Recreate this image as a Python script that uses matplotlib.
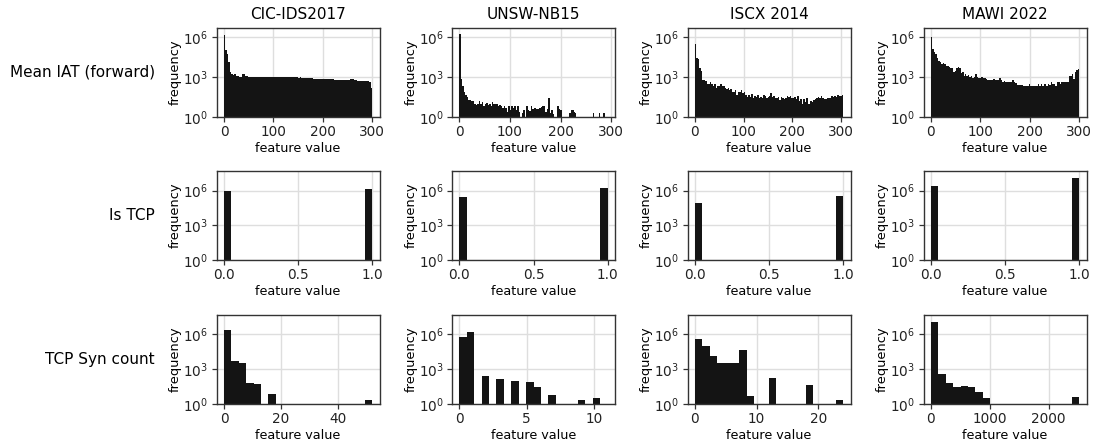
import numpy as np
import matplotlib.pyplot as plt

datasets = ["CIC-IDS2017", "UNSW-NB15", "ISCX 2014", "MAWI 2022"]
features = ["Mean IAT (forward)", "Is TCP", "TCP Syn count"]

nan = np.nan

# log10 of the bin counts (nan = empty bin)
# Mean IAT (forward): 100 bins
iat_cic = [6.15, 5.0, 4.7, 4.1, 3.4, 3.25, 3.15, 3.2, 3.1, 3.05,
           3.0, 3.0, 3.25, 3.2, 3.1, 3.05, 3.0, 3.0, 3.02, 3.0,
           3.0, 2.98, 3.0, 3.0, 3.0, 3.02, 3.02, 3.0, 3.0, 3.02,
           3.02, 3.02, 3.0, 2.98, 3.0, 3.0, 2.98, 2.98, 2.98, 2.98,
           2.98, 2.98, 2.97, 2.97, 2.97, 2.97, 2.96, 2.97, 2.96, 2.96,
           2.95, 2.97, 2.94, 2.94, 2.93, 2.92, 2.92, 2.91, 2.9, 2.9,
           2.88, 2.87, 2.87, 2.86, 2.86, 2.85, 2.85, 2.84, 2.84, 2.83,
           2.82, 2.82, 2.81, 2.81, 2.8, 2.8, 2.79, 2.79, 2.78, 2.78,
           2.77, 2.76, 2.75, 2.75, 2.78, 2.85, 2.88, 2.85, 2.8, 2.75,
           2.72, 2.7, 2.68, 2.7, 2.68, 2.68, 2.66, 2.68, 2.62, 2.2]
iat_unsw = [6.2, 2.85, 2.3, 1.9, 1.65, 1.5, 1.3, 1.3, 1.2, 1.2,
            0.95, 0.9, 0.95, 1.2, 0.95, 1.1, 0.8, 0.95, 1.05, 0.9,
            1.0, 0.8, 1.1, 0.95, 1.0, 0.95, 0.8, 0.9, 0.8, 0.7,
            0.8, 0.7, 0.4, 0.8, 0.5, 0.8, 0.65, 0.8, 0.5, 0.8,
            0.35, nan, 0.3, 0.5, nan, 0.8, 0.5, 0.45, 0.8, 0.6,
            0.65, 0.65, 0.6, 0.6, 0.65, 0.75, 0.8, 0.8, 0.35, 0.6,
            1.45, 0.3, 0.5, 0.25, nan, nan, 0.8, 0.6, 0.5, nan,
            nan, nan, nan, nan, 0.3, 0.5, 0.5, 0.35, 0.3, nan,
            nan, nan, nan, nan, nan, nan, nan, nan, nan, nan,
            0.3, nan, nan, nan, 0.3, nan, nan, 0.3, nan, nan]
iat_iscx = [5.5, 4.4, 4.35, 3.7, 3.45, 2.8, 2.8, 2.7, 2.5, 2.45,
            2.65, 2.45, 2.3, 2.5, 2.15, 2.3, 2.3, 2.5, 2.3, 2.35,
            2.15, 2.1, 2.15, 2.0, 2.1, 1.9, 1.9, 2.0, 1.65, 1.9,
            1.9, 2.0, 1.8, 1.9, 1.65, 1.5, 1.65, 1.5, 1.7, 1.45,
            1.6, 1.5, 1.65, 1.45, 1.5, 1.45, 1.65, 1.6, 1.45, 1.5,
            1.55, 1.8, 1.5, 1.6, 1.4, 1.45, 1.5, 1.3, 1.5, 1.4,
            1.35, 1.45, 1.6, 1.5, 1.6, 1.4, 1.45, 1.5, 1.35, 1.6,
            1.2, 1.35, 1.0, 1.35, 1.1, 1.4, 0.95, 1.0, 1.2, 1.15,
            1.3, 1.35, 1.4, 1.5, 1.45, 1.55, 1.45, 1.35, 1.35, 1.4,
            1.45, 1.4, 1.6, 1.5, 1.6, 1.5, 1.65, 1.55, 1.6, 1.65]
iat_mawi = [6.0, 5.1, 4.85, 4.7, 4.45, 4.2, 4.1, 4.0, 4.05, 3.95,
            3.85, 3.8, 3.75, 3.65, 3.7, 3.35, 3.45, 3.7, 3.75, 3.65,
            3.3, 3.35, 3.1, 3.2, 3.1, 3.15, 3.0, 3.1, 2.95, 3.0,
            3.2, 3.0, 2.95, 2.9, 3.0, 2.95, 2.9, 2.85, 2.8, 2.8,
            2.8, 2.8, 2.85, 2.75, 2.75, 2.8, 2.95, 2.75, 2.65, 2.7,
            2.65, 2.65, 2.6, 2.65, 2.6, 2.75, 2.65, 2.55, 2.4, 2.4,
            2.4, 2.4, 2.35, 2.35, 2.35, 2.35, 2.45, 2.3, 2.35, 2.3,
            2.3, 2.3, 2.5, 2.3, 2.45, 2.35, 2.45, 2.45, 2.35, 2.5,
            2.4, 2.6, 2.5, 2.45, 2.35, 2.6, 2.6, 2.5, 2.6, 2.65,
            2.6, 2.6, 2.6, 3.1, 3.05, 3.2, 2.85, 3.4, 3.5, 3.6]

# Is TCP: 20 bins, only first and last filled
tcp_cic = [5.97] + [nan] * 18 + [6.14]
tcp_unsw = [5.45] + [nan] * 18 + [6.2]
tcp_iscx = [4.95] + [nan] * 18 + [5.5]
tcp_mawi = [6.4] + [nan] * 18 + [7.05]

# TCP Syn count: 20 bins
syn_cic = [6.35, 3.75, 3.55, 1.83, 1.7, nan, 0.9, nan, nan, nan,
           nan, nan, nan, nan, nan, nan, nan, nan, nan, 0.35]
syn_unsw = [5.77, 6.17, nan, 2.4, nan, 2.15, nan, 1.97, nan, 1.9,
            1.43, nan, 0.77, nan, nan, nan, 0.34, nan, 0.51, 0.0]
syn_iscx = [5.57, 4.97, 4.1, 3.54, 3.54, 3.54, 4.63, 0.69, nan, nan,
            2.25, nan, nan, nan, nan, 1.63, nan, nan, nan, 0.34]
syn_mawi = [7.1, 2.57, 1.83, 1.49, 1.54, 1.43, 1.06, 0.51, nan, nan,
            nan, nan, nan, nan, nan, nan, nan, nan, nan, 0.57]

# upper end of the feature value range (all start at 0)
iat_max = [300, 293, 304, 300]
tcp_max = [1, 1, 1, 1]
syn_max = [52, 11, 24, 2520]

iat_ticks = [0, 100, 200, 300]
tcp_ticks = [0, 0.5, 1.0]
syn_ticks = [[0, 20, 40], [0, 5, 10], [0, 10, 20], [0, 1000, 2000]]

rows = [
    ([iat_cic, iat_unsw, iat_iscx, iat_mawi], iat_max, [iat_ticks] * 4, 10 ** 6.7),
    ([tcp_cic, tcp_unsw, tcp_iscx, tcp_mawi], tcp_max, [tcp_ticks] * 4, 10 ** 7.74),
    ([syn_cic, syn_unsw, syn_iscx, syn_mawi], syn_max, syn_ticks, 10 ** 7.72),
]

plt.rcParams['font.family'] = 'DejaVu Sans'
plt.rcParams['axes.edgecolor'] = '#333333'
plt.rcParams['axes.linewidth'] = 1.0
plt.rcParams['xtick.color'] = '#333333'
plt.rcParams['ytick.color'] = '#333333'
plt.rcParams['xtick.labelcolor'] = '#222222'
plt.rcParams['ytick.labelcolor'] = '#222222'

W, H = 1098, 446
fig = plt.figure(figsize=(W / 100, H / 100), dpi=100)

lefts = [216.6, 452.0, 687.5, 923.5]
bottoms = [117, 260, 404]
aw, ah = 163, 89.5

for r, (logs, vmax, xt, ytop) in enumerate(rows):
    for c in range(4):
        ax = fig.add_axes([lefts[c] / W, 1 - bottoms[r] / H, aw / W, ah / H])
        lc = np.array(logs[c], dtype=float)
        counts = np.nan_to_num(10 ** lc, nan=0.0)
        edges = np.linspace(0, vmax[c], len(counts) + 1)
        centers = (edges[:-1] + edges[1:]) / 2
        ax.hist(centers, bins=edges, weights=counts, log=True,
                color='#141414', edgecolor='none')
        ax.set_ylim(1, ytop)
        ax.set_xticks(xt[c])
        ax.set_yticks([1, 1e3, 1e6])
        ax.minorticks_off()
        ax.set_axisbelow(True)
        ax.grid(True, color='#dedede', linewidth=1.0)
        ax.tick_params(labelsize=9.8, length=3.5, width=0.9, pad=2.5)
        ax.set_xlabel("feature value", fontsize=9.2, labelpad=2)
        ax.set_ylabel("frequency", fontsize=9.4, labelpad=1)
        if r == 0:
            ax.set_title(datasets[c], fontsize=11, pad=6)
        if c == 0:
            fig.text(155 / W, 1 - (bottoms[r] - ah / 2) / H, features[r],
                     ha='right', va='center', fontsize=11)

fig.savefig("out.png", dpi=100)
